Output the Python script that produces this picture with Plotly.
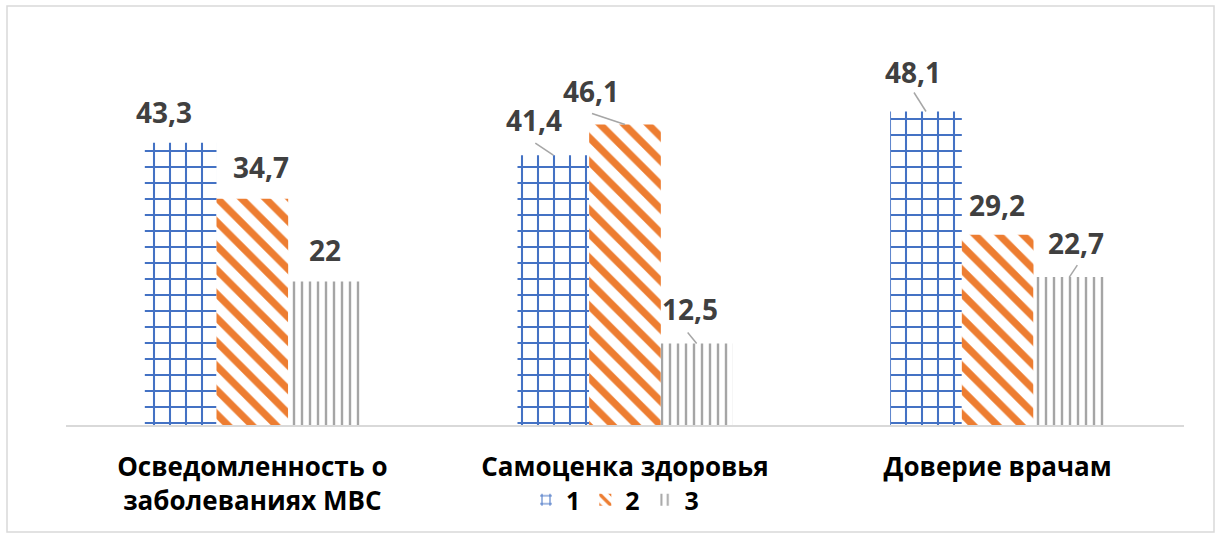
import plotly.graph_objects as go

categories = ["Осведомленность о<br>заболеваниях МВС", "Самоценка здоровья", "Доверие врачам"]
series_names = ["1", "2", "3"]
series_values = [
    [43.3, 41.4, 48.1],
    [34.7, 46.1, 29.2],
    [22, 12.5, 22.7],
]

colors = ["#4472c4", "#ed7d31", "#a5a5a5"]
shapes_pat = ["+", "\\", "|"]
pat_size = [16, 17, 8]
pat_solid = [0.24, 0.42, 0.3]

# label placement offsets (pixels, relative to top-centre of each bar)
label_dx = [[-17, -19, -13], [9, -34, -1], [1, -7, 7]]
label_dy = [[31, 35, 40], [32, 34, 30], [32, 35, 34]]
# leader lines: (series, category, dx, dy)
leaders = [(0, 1, -18, 12), (1, 1, -33, 11), (2, 1, -9, 11), (0, 2, -12, 19), (2, 2, 8, 12)]

W, H = 1220, 539
ML, MR, MT, MB = 66, 36, 47, 114
BARGAP = 0.423
bw = (1 - BARGAP) / 3

fig = go.Figure()
for j, name in enumerate(series_names):
    fig.add_trace(go.Bar(
        name=name,
        x=categories,
        y=series_values[j],
        marker=dict(
            color="white",
            line=dict(width=0),
            pattern=dict(shape=shapes_pat[j], fgcolor=colors[j], bgcolor="white",
                         size=pat_size[j], solidity=pat_solid[j], fillmode="replace"),
        ),
        hoverinfo="skip",
    ))

def fmt(v):
    s = ("%g" % v).replace(".", ",")
    return s

annotations = []
for j in range(3):
    for i in range(3):
        v = series_values[j][i]
        annotations.append(dict(
            x=i + (j - 1) * bw, y=v, xref="x", yref="y",
            text=fmt(v), showarrow=False,
            xanchor="center", yanchor="middle",
            xshift=label_dx[j][i], yshift=label_dy[j][i],
            font=dict(family="Open Sans", size=28, color="#404040", weight="bold"),
        ))

shapes = []
for (j, i, dx, dy) in leaders:
    shapes.append(dict(
        type="line", xref="x", yref="y",
        xsizemode="pixel", ysizemode="pixel",
        xanchor=i + (j - 1) * bw, yanchor=series_values[j][i],
        x0=dx, y0=dy, x1=0, y1=0,
        line=dict(color="#a6a6a6", width=1.5),
    ))

pw = W - ML - MR
ph = H - MT - MB
shapes.append(dict(
    type="rect", xref="paper", yref="paper",
    x0=(7 - ML) / pw, x1=(1214 - ML) / pw,
    y0=(H - MB - 532) / ph, y1=(H - MB - 6) / ph,
    line=dict(color="#d9d9d9", width=1.5), fillcolor="rgba(0,0,0,0)", layer="below",
))

fig.update_layout(
    width=W, height=H,
    margin=dict(l=ML, r=MR, t=MT, b=MB),
    paper_bgcolor="white", plot_bgcolor="white",
    barmode="group", bargap=BARGAP, bargroupgap=0,
    showlegend=True,
    legend=dict(
        orientation="h", x=(526 - ML) / pw, xanchor="left",
        y=(H - MB - 500) / ph, yanchor="middle",
        font=dict(family="Open Sans", size=25, color="#000000", weight="bold"),
        bgcolor="rgba(0,0,0,0)", itemwidth=30, tracegroupgap=0,
    ),
    xaxis=dict(
        showline=True, linecolor="#d9d9d9", linewidth=1.5,
        showgrid=False, ticks="", ticklabelstandoff=18,
        tickfont=dict(family="Open Sans", size=26, color="#000000", weight="bold"),
    ),
    yaxis=dict(range=[0, 58], visible=False, showgrid=False, zeroline=False),
    annotations=annotations,
    shapes=shapes,
    font=dict(family="Open Sans"),
)

fig.write_html("out.html")
